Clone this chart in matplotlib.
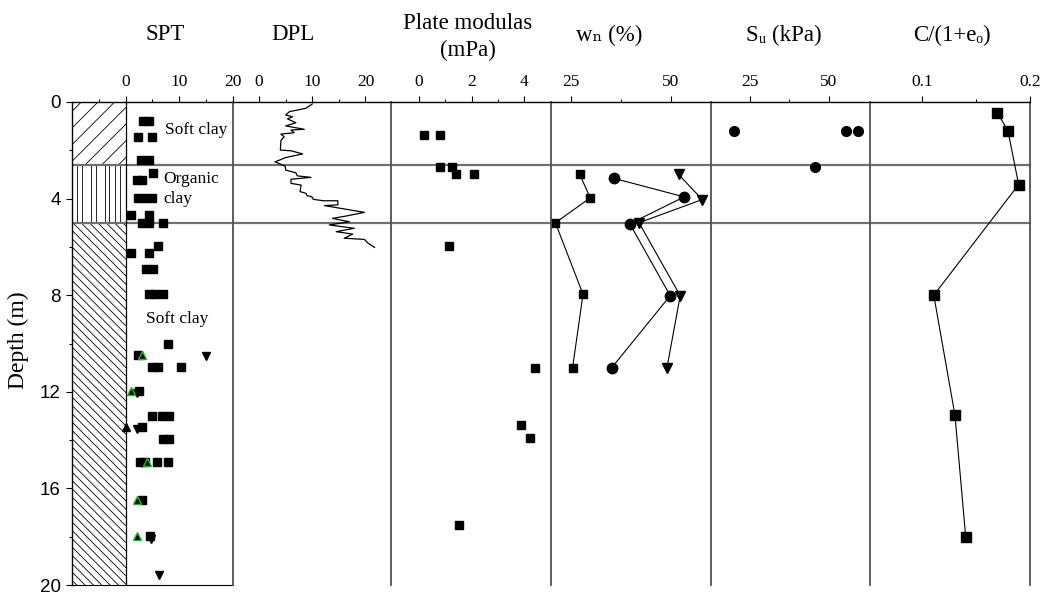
import matplotlib
matplotlib.use("Agg")
import matplotlib.pyplot as plt
from matplotlib.ticker import FixedLocator

plt.rcParams['font.family'] = ['Liberation Serif', 'DejaVu Serif', 'DejaVu Sans']
plt.rcParams['hatch.linewidth'] = 0.6

# ---- data (depth in m) ----
layer_bounds = [0, 2.6, 5.0, 20]

spt_depth = [0.77, 0.77, 1.44, 1.44, 2.42, 2.42, 2.95, 3.23, 3.23, 3.96, 3.96, 3.96,
             4.68, 4.68, 5.0, 5.0, 5.0, 5.95, 6.27, 6.27, 6.93, 6.93, 7.95, 7.95, 7.95,
             10.02, 10.48, 10.99, 10.99, 10.99, 11.97, 13.0, 13.0, 13.0, 13.44,
             13.95, 13.95, 14.92, 14.92, 14.92, 14.92, 16.48, 17.96]
spt_n = [3.3, 4.4, 2.3, 5.0, 2.9, 4.3, 5.1, 2.1, 3.1, 2.35, 3.65, 4.9,
         1.07, 4.4, 3.0, 4.3, 7.0, 6.1, 1.07, 4.4, 3.9, 5.2, 4.3, 5.6, 7.1,
         7.9, 2.3, 5.0, 6.1, 10.3, 2.5, 5.0, 6.9, 8.1, 3.0,
         7.0, 8.1, 2.8, 3.6, 5.9, 7.9, 3.1, 4.6]
spt_green_depth = [10.48, 11.97, 14.92, 16.48, 17.96]
spt_green_n = [3.1, 1.07, 4.1, 2.06, 2.06]
spt_up_depth = [13.44]
spt_up_n = [0.1]
spt_down_depth = [10.52, 12.06, 13.55, 18.1, 19.6]
spt_down_n = [15.1, 2.06, 2.06, 4.8, 6.25]

dpl_depth = [0.08, 0.26, 0.40, 0.54, 0.61, 0.70, 0.86, 0.99, 1.13, 1.16, 1.27, 1.33,
             1.44, 1.60, 1.99, 2.02, 2.15, 2.30, 2.48, 2.55, 2.66, 2.82, 2.93, 3.06,
             3.12, 3.20, 3.37, 3.44, 3.71, 3.78, 3.88, 3.92, 4.03, 4.09, 4.09, 4.26,
             4.29, 4.57, 4.72, 4.82, 4.96, 5.09, 5.23, 5.37, 5.47, 5.64, 5.69, 5.83, 6.02]
dpl_value = [10.0, 8.8, 5.7, 5.0, 6.3, 5.35, 6.9, 5.0, 8.5, 6.0, 6.6, 4.1,
             4.7, 4.1, 4.0, 6.0, 8.2, 5.0, 3.0, 3.8, 4.9, 5.0, 6.9, 7.2,
             9.75, 6.0, 6.0, 7.9, 7.7, 8.8, 9.0, 9.9, 10.2, 12.1, 14.8, 14.8,
             12.3, 19.8, 16.4, 13.8, 17.0, 13.2, 17.9, 14.5, 17.6, 16.0, 19.8, 20.4, 21.7]

plate_depth = [1.37, 1.37, 2.7, 2.7, 3.0, 3.0, 5.96, 11.0, 13.37, 13.93, 17.5]
plate_mod = [0.19, 0.80, 0.80, 1.27, 1.40, 2.08, 1.14, 4.40, 3.87, 4.21, 1.5]

wn_depth_sq = [3.0, 3.97, 5.0, 7.96, 11.0]
wn_sq = [27.2, 29.8, 21.1, 28.0, 25.4]
wn_depth_ci = [3.16, 3.93, 5.04, 8.02, 11.0]
wn_ci = [35.7, 53.3, 39.7, 49.8, 35.2]
wn_depth_tr = [3.0, 4.04, 5.0, 8.02, 11.0]
wn_tr = [51.9, 57.8, 42.0, 52.3, 49.0]

su_depth = [1.19, 1.19, 1.19, 2.7]
su_kpa = [19.8, 55.4, 59.5, 45.8]

cc_depth = [0.44, 1.19, 3.42, 8.0, 12.97, 18.0]
cc_value = [0.1697, 0.1796, 0.1895, 0.111, 0.1306, 0.1405]

headers = ['SPT', 'DPL', 'Plate modulas\n(mPa)', 'w\u2099 (%)',
           'S\u1d64 (kPa)', 'C/(1+e\u2092)']

# ---- layout (pixels) ----
W, H = 1042, 596
TOP, BOT = 102, 585
fig = plt.figure(figsize=(W / 100, H / 100), dpi=100)

edges = [72, 232.5, 391, 551, 711, 870, 1030]
header_x = [165, 293, 468, 609, 784, 952]
header_y = [35, 35, 37, 35, 35, 35]
xlims = [(-10, 20), (-5, 24.8), (-1.07, 5.02), (20, 60), (12.5, 63.2), (0.052, 0.2)]
majors = [[0, 10, 20], [0, 10, 20], [0, 2, 4], [25, 50], [25, 50], [0.1, 0.2]]
minors = [[-5, 5, 15], [5, 15], [1, 3], [37.5], [37.5], [0.15]]
major_lbl = [['0', '10', '20'], ['0', '10', '20'], ['0', '2', '4'], ['25', '50'],
             ['25', '50'], ['0.1', '0.2']]
sep_color = '#505050'

axes = []
for i in range(6):
    x0, x1 = edges[i], edges[i + 1]
    ax = fig.add_axes([x0 / W, 1 - BOT / H, (x1 - x0) / W, (BOT - TOP) / H])
    ax.set_xlim(*xlims[i])
    ax.set_ylim(20, 0)
    ax.xaxis.tick_top()
    ax.xaxis.set_major_locator(FixedLocator(majors[i]))
    ax.xaxis.set_minor_locator(FixedLocator(minors[i]))
    ax.set_xticklabels(major_lbl[i])
    ax.tick_params(axis='x', which='major', direction='out', length=4, width=0.8,
                   labelsize=12.5, pad=5)
    ax.tick_params(axis='x', which='minor', direction='out', length=2, width=0.8)
    ax.spines['top'].set_linewidth(1.0)
    ax.spines['right'].set_visible(i == 5)
    ax.spines['right'].set_color(sep_color)
    ax.spines['right'].set_linewidth(1.3)
    ax.spines['bottom'].set_visible(i == 0)
    if i == 0:
        ax.spines['left'].set_color('black')
        ax.spines['left'].set_linewidth(1.0)
    else:
        ax.spines['left'].set_color(sep_color)
        ax.spines['left'].set_linewidth(1.3)
        ax.set_yticks([])
    for d in layer_bounds[1:3]:
        ax.axhline(d, color='#707070', lw=1.6, zorder=1)
    axes.append(ax)
    fig.text(header_x[i] / W, 1 - header_y[i] / H, headers[i], ha='center',
             va='center', fontsize=16.5, linespacing=1.4)

# depth axis
ax = axes[0]
ax.set_yticks([0, 4, 8, 12, 16, 20])
ax.set_yticks([2, 6, 10, 14, 18], minor=True)
ax.tick_params(axis='y', which='major', direction='out', length=4, width=0.8,
               labelsize=13.5, pad=4)
ax.tick_params(axis='y', which='minor', direction='out', length=2, width=0.8)
for lb in ax.get_yticklabels():
    lb.set_family(['Liberation Sans', 'DejaVu Sans'])
fig.text(18 / W, 1 - 340 / H, 'Depth (m)', rotation=90, ha='center', va='center',
         fontsize=17)

# soil column
ax.fill_betweenx([0, 2.6], -10, 0, facecolor='white', edgecolor='black',
                 hatch='//', lw=0, zorder=0)
ax.fill_betweenx([5.0, 20], -10, 0, facecolor='white', edgecolor='black',
                 hatch='\\\\\\\\', lw=0, zorder=0)
organic_lines = [-9.1, -8.1, -6.4, -5.5, -3.9, -3.0, -2.0, -1.0]
ax.vlines(organic_lines, 2.6, 5.0, color='black', lw=0.6, zorder=0)
ax.axvline(0, color='black', lw=0.9, zorder=2)

# SPT
ax.plot(spt_n, spt_depth, 's', color='black', ms=5.2, zorder=3)
ax.plot(spt_down_n, spt_down_depth, 'v', color='black', ms=6, zorder=3)
ax.plot(spt_up_n, spt_up_depth, '^', color='black', ms=6, zorder=3)
ax.plot(spt_green_n, spt_green_depth, '^', mfc='black', mec='#22bb22', mew=1.0,
        ms=6, zorder=4)
ax.text(7.3, 1.15, 'Soft clay', fontsize=12.5, va='center')
ax.text(7.1, 3.2, 'Organic', fontsize=12.5, va='center')
ax.text(7.1, 4.0, 'clay', fontsize=12.5, va='center')
ax.text(3.9, 9.0, 'Soft clay', fontsize=12.5, va='center')

# DPL
axes[1].plot(dpl_value, dpl_depth, color='black', lw=0.9)

# plate modulus
axes[2].plot(plate_mod, plate_depth, 's', color='black', ms=5.5)

# water content
ax = axes[3]
ax.plot(wn_sq, wn_depth_sq, 's-', color='black', lw=0.8, ms=6)
ax.plot(wn_ci, wn_depth_ci, 'o-', color='black', lw=0.8, ms=7.5)
ax.plot(wn_tr, wn_depth_tr, 'v-', color='black', lw=0.8, ms=7)
for a in axes[3:]:
    for line in a.lines:
        line.set_clip_on(False)

# undrained strength
axes[4].plot(su_kpa, su_depth, 'o', color='black', ms=7)

# compression index
axes[5].plot(cc_value, cc_depth, 's-', color='black', lw=0.8, ms=7.5)

fig.savefig('out.png', dpi=100)
